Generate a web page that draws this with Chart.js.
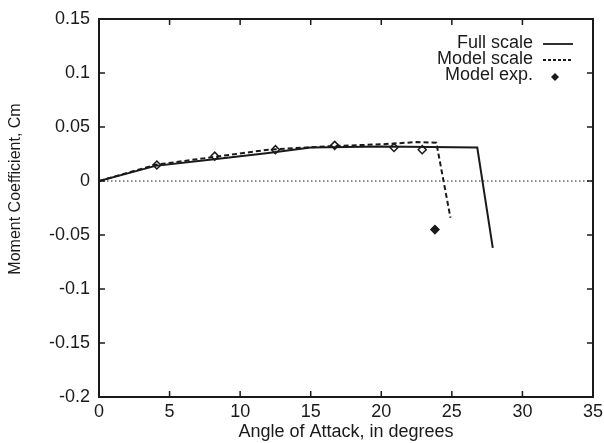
<!DOCTYPE html>
<html>
<head>
<meta charset="utf-8">
<script src="https://cdn.jsdelivr.net/npm/chart.js@4"></script>
<style>
  html, body { margin: 0; padding: 0; background: #fff; }
  #wrap { width: 604px; height: 443px; }
</style>
</head>
<body>
<div id="wrap"><canvas id="cm"></canvas></div>
<script>
// Data
const fullScaleAlpha = [0, 4, 8, 12, 15, 20, 26.8, 27.9];
const fullScaleCm    = [0, 0.014, 0.020, 0.026, 0.031, 0.032, 0.031, -0.062];

const modelScaleAlpha = [0, 4, 8, 12, 16, 20, 22.5, 23.9, 24.9];
const modelScaleCm    = [0, 0.015, 0.022, 0.029, 0.032, 0.034, 0.036, 0.0355, -0.034];

const expAlpha = [4.1, 8.2, 12.5, 16.7, 20.9, 22.9, 23.8];
const expCm    = [0.0148, 0.023, 0.029, 0.033, 0.031, 0.029, -0.045];

const xTicks = [0, 5, 10, 15, 20, 25, 30, 35];
const yTicks = [-0.2, -0.15, -0.1, -0.05, 0, 0.05, 0.1, 0.15];
const yTickLabels = ['-0.2', '-0.15', '-0.1', '-0.05', '0', '0.05', '0.1', '0.15'];

const ink = '#1a1a1a';
const font = 'Liberation Sans, Arial, sans-serif';

const toPts = (xs, ys) => xs.map((x, i) => ({ x: x, y: ys[i] }));

// frame, inward ticks, zero line, y title and legend
const decor = {
    id: 'decor',
    beforeDatasetsDraw(chart) {
        const { ctx, chartArea: a, scales } = chart;
        const y0 = scales.y.getPixelForValue(0);
        ctx.save();
        ctx.strokeStyle = ink;
        ctx.lineWidth = 1.2;
        ctx.setLineDash([1.5, 2.5]);
        ctx.beginPath();
        ctx.moveTo(a.left, y0);
        ctx.lineTo(a.right, y0);
        ctx.stroke();
        ctx.restore();
    },
    afterDraw(chart) {
        const { ctx, chartArea: a, scales } = chart;
        ctx.save();
        ctx.strokeStyle = ink;
        ctx.lineWidth = 2;
        ctx.strokeRect(a.left, a.top, a.right - a.left, a.bottom - a.top);
        ctx.lineWidth = 1.5;
        ctx.beginPath();
        xTicks.forEach(v => {
            const px = scales.x.getPixelForValue(v);
            if (v === 0 || v === 35) return;
            ctx.moveTo(px, a.bottom); ctx.lineTo(px, a.bottom - 6);
            ctx.moveTo(px, a.top); ctx.lineTo(px, a.top + 6);
        });
        yTicks.forEach(v => {
            const py = scales.y.getPixelForValue(v);
            if (v === -0.2 || v === 0.15) return;
            ctx.moveTo(a.left, py); ctx.lineTo(a.left + 6, py);
            ctx.moveTo(a.right, py); ctx.lineTo(a.right - 6, py);
        });
        ctx.stroke();

        // y axis title (sits a bit above the axis centre in the original)
        ctx.save();
        ctx.translate(16, 189);
        ctx.rotate(-Math.PI / 2);
        ctx.font = '16px ' + font;
        ctx.fillStyle = ink;
        ctx.textAlign = 'center';
        ctx.textBaseline = 'middle';
        ctx.fillText('Moment Coefficient, Cm', 0, 0);
        ctx.restore();

        // legend
        const items = [
            { text: 'Full scale', kind: 'solid' },
            { text: 'Model scale', kind: 'dash' },
            { text: 'Model exp.', kind: 'diamond' }
        ];
        ctx.font = '18px ' + font;
        ctx.fillStyle = ink;
        ctx.textAlign = 'right';
        ctx.textBaseline = 'middle';
        items.forEach((it, i) => {
            const y = 43 + i * 16;
            ctx.fillText(it.text, 533, y);
            if (it.kind === 'diamond') {
                const dy = y + 2;
                ctx.beginPath();
                ctx.moveTo(555, dy - 4); ctx.lineTo(559, dy); ctx.lineTo(555, dy + 4); ctx.lineTo(551, dy);
                ctx.closePath();
                ctx.fill();
            } else {
                ctx.lineWidth = 1.8;
                ctx.setLineDash(it.kind === 'dash' ? [3, 2] : []);
                ctx.beginPath();
                ctx.moveTo(543, y + 1); ctx.lineTo(573, y + 1);
                ctx.stroke();
                ctx.setLineDash([]);
            }
        });
        ctx.restore();
    }
};

new Chart(document.getElementById('cm'), {
    type: 'scatter',
    data: {
        datasets: [{
            label: 'Full scale',
            data: toPts(fullScaleAlpha, fullScaleCm),
            showLine: true,
            borderColor: ink,
            borderWidth: 2,
            pointRadius: 0,
            tension: 0
        }, {
            label: 'Model scale',
            data: toPts(modelScaleAlpha, modelScaleCm),
            showLine: true,
            borderColor: ink,
            borderWidth: 2,
            borderDash: [5, 3],
            pointRadius: 0,
            tension: 0
        }, {
            label: 'Model exp.',
            data: toPts(expAlpha, expCm),
            pointStyle: 'rectRot',
            pointRadius: 4,
            borderWidth: 1.5,
            borderColor: ink,
            pointBackgroundColor: expCm.map(v => v < 0 ? ink : '#fff')
        }]
    },
    options: {
        responsive: true,
        maintainAspectRatio: false,
        animation: false,
        layout: { padding: { top: 19, right: 11, left: 0, bottom: 0 } },
        plugins: {
            legend: { display: false },
            tooltip: { enabled: false }
        },
        scales: {
            x: {
                type: 'linear',
                min: 0,
                max: 35,
                afterBuildTicks: s => { s.ticks = xTicks.map(v => ({ value: v })); },
                afterFit: s => { s.height = 46; s.paddingRight = 0; s.paddingLeft = 0; },
                grid: { display: false, drawTicks: false },
                border: { display: false },
                ticks: {
                    color: ink,
                    padding: 4,
                    font: { family: font, size: 18 }
                },
                title: {
                    display: true,
                    text: 'Angle of Attack, in degrees',
                    color: ink,
                    padding: { top: -7, bottom: 0 },
                    font: { family: font, size: 18 }
                }
            },
            y: {
                type: 'linear',
                min: -0.2,
                max: 0.15,
                afterBuildTicks: s => { s.ticks = yTicks.map(v => ({ value: v })); },
                afterFit: s => { s.width = 99; s.paddingTop = 0; s.paddingBottom = 0; },
                grid: { display: false, drawTicks: false },
                border: { display: false },
                ticks: {
                    color: ink,
                    padding: 9,
                    font: { family: font, size: 18 },
                    callback: (v, i) => yTickLabels[i]
                }
            }
        }
    },
    plugins: [decor]
});
</script>
</body>
</html>
